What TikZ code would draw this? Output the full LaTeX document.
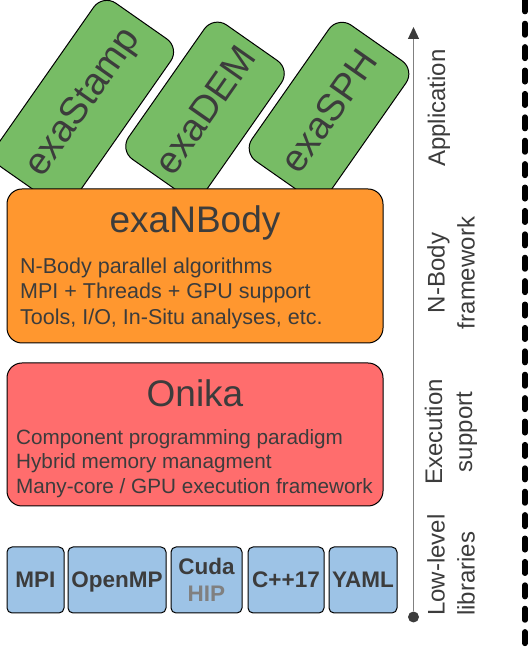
\documentclass[tikz,border=0pt]{standalone}
\usepackage{fontspec}
\setmainfont{Liberation Sans}
\usetikzlibrary{arrows.meta,positioning}

\definecolor{appgreen}{HTML}{77BC65}
\definecolor{nbodyorange}{HTML}{FF972F}
\definecolor{onikared}{HTML}{FF6D6D}
\definecolor{libblue}{HTML}{9DC3E6}
\definecolor{textgray}{HTML}{3C3C3C}
\definecolor{hipgray}{HTML}{808080}

\begin{document}
\begin{tikzpicture}
        [x=1pt, y=1pt,
        app/.style={draw, line width=1pt, fill=appgreen, rotate=55, rounded corners=16pt,
            minimum height=94pt, inner sep=0pt, text=textgray, font=\fontsize{38}{40}\selectfont},
        layer/.style={draw, line width=1pt, rounded corners=15pt, minimum width=376pt, inner sep=0pt},
        title/.style={anchor=base, inner sep=0pt, text=textgray, font=\fontsize{37}{40}\selectfont},
        item/.style={anchor=base west, inner sep=0pt, text=textgray, font=\fontsize{21.5}{24}\selectfont},
        lib/.style={draw, line width=1pt, fill=libblue, rounded corners=5pt, minimum height=66pt,
            inner sep=0pt, text depth=0pt, text=textgray, font=\bfseries\fontsize{22.5}{27}\selectfont},
        level/.style={rotate=90, inner sep=0pt, text=textgray, font=\fontsize{24}{30}\selectfont},
        axis/.style={gray, line width=1.3pt},
        dot/.style={circle, fill=textgray, minimum size=11pt, inner sep=0pt},
        sep/.style={line width=5.3pt, line cap=round, dash pattern=on 11.7pt off 11.7pt}]

        \useasboundingbox (0,0) rectangle (532,650);

        % applications, tilted, behind the framework box
        \node[app, minimum width=200pt] (stamp) at (84,547) {exaStamp};
        \node[app, minimum width=164pt] (dem) at (205,540) {exaDEM};
        \node[app, minimum width=166pt] (sph) at (329,539) {exaSPH};

        % N-Body framework
        \node[layer, fill=nbodyorange, minimum height=154pt] (nbody) at (195,384) {};
        \node[title] (nbodytitle) at (195,417) {exaNBody};
        \node[item] (nb1) at (20,376) {N-Body parallel algorithms};
        \node[item] (nb2) at (20,351) {MPI + Threads + GPU support};
        \node[item] (nb3) at (20,325) {Tools, I/O, In-Situ analyses, etc.};

        % execution support
        \node[layer, fill=onikared, minimum height=143pt] (onika) at (195,215.5) {};
        \node[title] (onikatitle) at (195,243) {Onika};
        \node[item, font=\fontsize{20.7}{24}\selectfont] (on1) at (16,205) {Component programming paradigm};
        \node[item, font=\fontsize{20.7}{24}\selectfont] (on2) at (16,181) {Hybrid memory managment};
        \node[item, font=\fontsize{20.7}{24}\selectfont] (on3) at (16,156) {Many-core / GPU execution framework};

        % low-level libraries
        \node[lib, minimum width=57pt] (mpi) at (35.5,70) {MPI};
        \node[lib, minimum width=98pt] (openmp) at (117,70) {OpenMP};
        \node[lib, minimum width=71pt, align=center] (cuda) at (206.5,70) {Cuda\\{\color{hipgray}HIP}};
        \node[lib, minimum width=76pt] (cpp) at (286,70) {C++17};
        \node[lib, minimum width=68pt] (yaml) at (363,70) {YAML};

        % level axis
        \node[dot] (base) at (413.5,33) {};
        \coordinate (tip) at (413.5,623);
        \draw[axis, -{Triangle[length=12pt, width=11pt, color=textgray]}] (base) -- (tip);

        \node[level] (lapp) at (439,542) {Application};
        \node[level, align=center] (lnbody) at (451,377) {N-Body\\framework};
        \node[level, align=center] (lexec) at (451,218) {Execution\\support};
        \node[level, align=left] (llow) at (451,85) {Low-level\\libraries};

        % separator
        \coordinate (septop) at (525,650);
        \coordinate (sepbot) at (525,0);
        \draw[sep] (septop) -- (sepbot);
    \end{tikzpicture}
\end{document}
